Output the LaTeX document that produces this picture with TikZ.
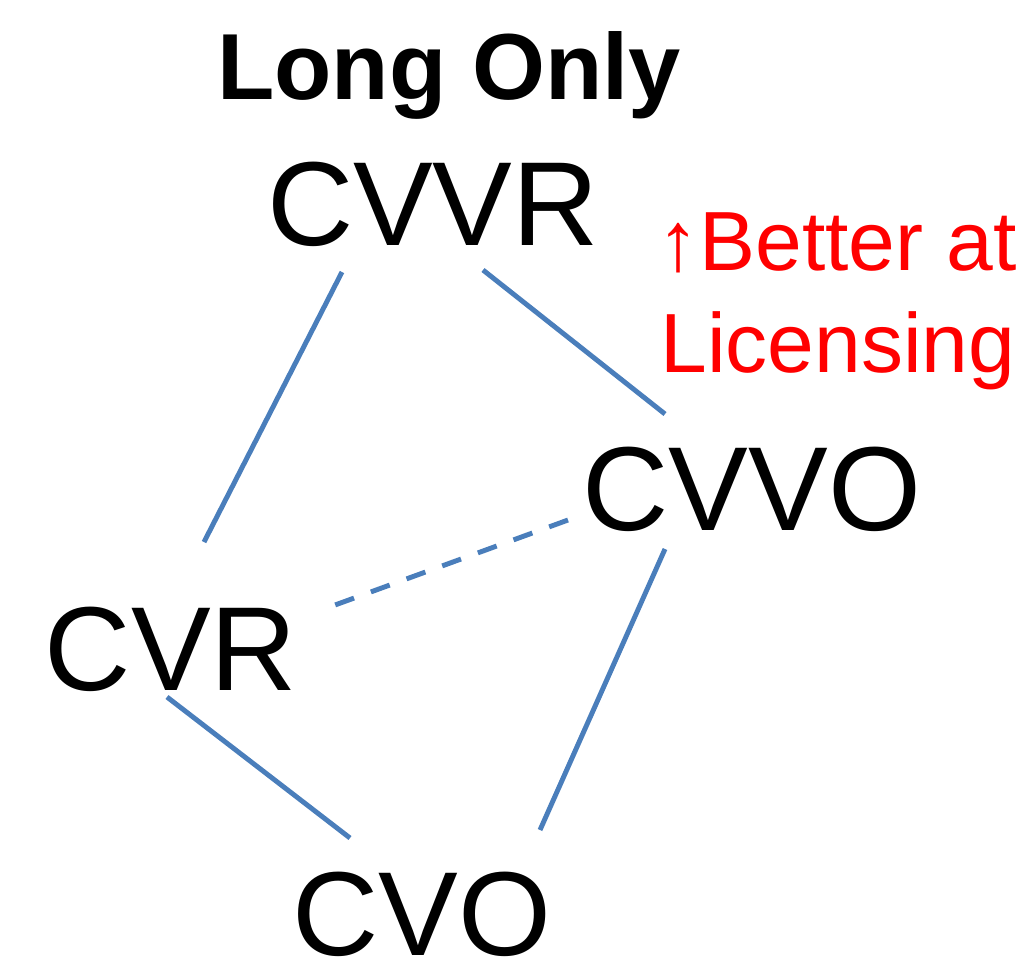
\documentclass[tikz,border=0pt]{standalone}
\usepackage{fontspec}
\setmainfont{Liberation Sans}
\definecolor{edgeblue}{RGB}{74,126,187}

\begin{document}
\begin{tikzpicture}[line width=1.4pt]
    \tikzstyle{word}=[inner sep=0pt, anchor=base, font=\fontsize{34}{40}\selectfont]
    \tikzstyle{edge}=[draw=edgeblue]
    \tikzstyle{note}=[inner sep=0pt, anchor=base west, text=red, font=\fontsize{23.9}{29}\selectfont]
    \useasboundingbox (0,0) rectangle (10.33,-9.60);
    \node[inner sep=0pt, anchor=base, font=\fontsize{26.7}{32}\selectfont\bfseries] (title) at (4.49,-0.99) {Long Only};
    \node[word] (cvvr) at (4.33,-2.45) {CVVR};
    \node[word] (cvvo) at (7.52,-5.30) {CVVO};
    \node[word] (cvr) at (1.71,-6.90) {CVR};
    \node[word] (cvo) at (4.22,-9.55) {CVO};
    \node[note] (better) at (6.55,-2.70) {↑Better at};
    \node[note] (licensing) at (6.58,-3.72) {Licensing};
    \coordinate (cvvr-l) at (3.42,-2.72); \coordinate (cvvr-r) at (4.83,-2.70);
    \coordinate (cvvo-t) at (6.65,-4.14); \coordinate (cvvo-l) at (5.68,-5.20);
    \coordinate (cvvo-b) at (6.65,-5.49);
    \coordinate (cvr-t) at (2.04,-5.42); \coordinate (cvr-r) at (3.35,-6.05);
    \coordinate (cvr-b) at (1.67,-6.97);
    \coordinate (cvo-l) at (3.50,-8.38); \coordinate (cvo-r) at (5.40,-8.30);
    \draw[edge] (cvvr-l) -- (cvr-t); \draw[edge] (cvvr-r) -- (cvvo-t);
    \draw[edge, dash pattern=on 5.7pt off 5.1pt] (cvvo-l) -- (cvr-r);
    \draw[edge] (cvvo-b) -- (cvo-r); \draw[edge] (cvr-b) -- (cvo-l);
\end{tikzpicture}
\end{document}
